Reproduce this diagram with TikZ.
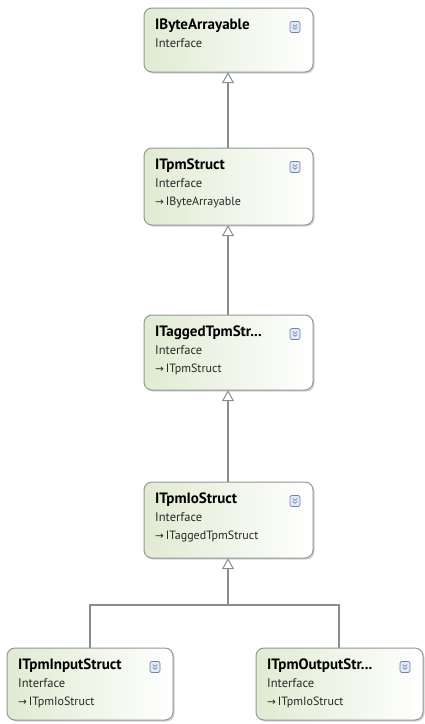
\documentclass[tikz,border=0pt]{standalone}
\usepackage{fontspec}
\setmainfont{PT Sans}
\newfontfamily\symfont{DejaVu Sans}
\usetikzlibrary{shadows,arrows.meta}
\definecolor{boxgreen}{RGB}{224,235,210}
\definecolor{boxline}{RGB}{150,150,150}
\definecolor{wire}{RGB}{140,140,140}
\definecolor{iconblue}{RGB}{110,130,170}
\definecolor{iconfill}{RGB}{226,234,246}
\definecolor{subtext}{RGB}{40,40,40}
\tikzset{
  shapebox/.style={draw=boxline, line width=1pt, rounded corners=8pt,
    left color=boxgreen, right color=white,
    drop shadow={shadow xshift=1.5pt, shadow yshift=-1.5pt, opacity=0.35, fill=gray}},
  titletext/.style={anchor=west, inner sep=0pt, font=\bfseries\fontsize{15}{16}\selectfont},
  kindtext/.style={anchor=west, inner sep=0pt, text=subtext, font=\fontsize{12.5}{13}\selectfont},
  basetext/.style={anchor=west, inner sep=0pt, text=subtext, font=\fontsize{12}{13}\selectfont},
  wireline/.style={draw=wire, line width=1.2pt},
  inherit/.style={wireline, -{Triangle[open, length=11pt, width=12pt, line width=1pt]}},
  collapse/.style={draw=iconblue, fill=iconfill, rounded corners=2pt, line width=0.7pt,
    minimum width=10pt, minimum height=11pt, inner sep=0pt}
}
% one interface shape: #1 name, #2 left, #3 top, #4 right, #5 bottom, #6 title, #7 base interface
\newcommand{\ifacebox}[7]{%
  \path[shapebox] (#2,#3) rectangle (#4,#5);
  \node[inner sep=0pt, minimum width=#4pt-#2pt, minimum height=#5pt-#3pt] (#1) at ({(#2+#4)/2},{(#3+#5)/2}) {};
  \node[titletext] (#1-title) at (#2+11,#3+18) {#6};
  \node[kindtext] (#1-kind) at (#2+11,#3+35) {Interface};
  \ifx\relax#7\relax\else
    \node[basetext] (#1-base) at (#2+11,#3+54) {{\symfont\fontsize{10.5}{11}\selectfont →}\,#7};
  \fi
  \node[collapse] (#1-icon) at (#4-18,#3+19) {};
  \draw[iconblue, line width=0.7pt] ([xshift=-2.2pt,yshift=2.4pt]#1-icon.center) -- ([yshift=0.6pt]#1-icon.center) -- ([xshift=2.2pt,yshift=2.4pt]#1-icon.center);
  \draw[iconblue, line width=0.7pt] ([xshift=-2.2pt,yshift=-0.4pt]#1-icon.center) -- ([yshift=-2.2pt]#1-icon.center) -- ([xshift=2.2pt,yshift=-0.4pt]#1-icon.center);
}
\begin{document}
\begin{tikzpicture}[x=1pt, y=-1pt]
  \useasboundingbox[fill=white] (0,0) rectangle (424,724);

  \ifacebox{byte}{144}{8}{313}{72}{IByteArrayable}{}
  \ifacebox{tpm}{144}{148}{313}{225}{ITpmStruct}{IByteArrayable}
  \ifacebox{tagged}{144}{315}{313}{390}{ITaggedTpmStr...}{ITpmStruct}
  \ifacebox{io}{144}{482}{313}{558}{ITpmIoStruct}{ITaggedTpmStruct}
  \ifacebox{input}{7}{648}{173}{720}{ITpmInputStruct}{ITpmIoStruct}
  \ifacebox{output}{256}{648}{423}{720}{ITpmOutputStr...}{ITpmIoStruct}

  % inheritance links
  \draw[inherit] (tpm.north -| 228,0) -- (byte.south -| 228,0);
  \draw[inherit] (tagged.north -| 228,0) -- (tpm.south -| 228,0);
  \draw[inherit] (io.north -| 228,0) -- (tagged.south -| 228,0);

  \coordinate (join) at (228,605);
  \draw[wireline] (input.north -| 90,0) |- (join);
  \draw[wireline] (output.north -| 339,0) |- (join);
  \draw[inherit] (join) -- (io.south -| 228,0);
\end{tikzpicture}
\end{document}
